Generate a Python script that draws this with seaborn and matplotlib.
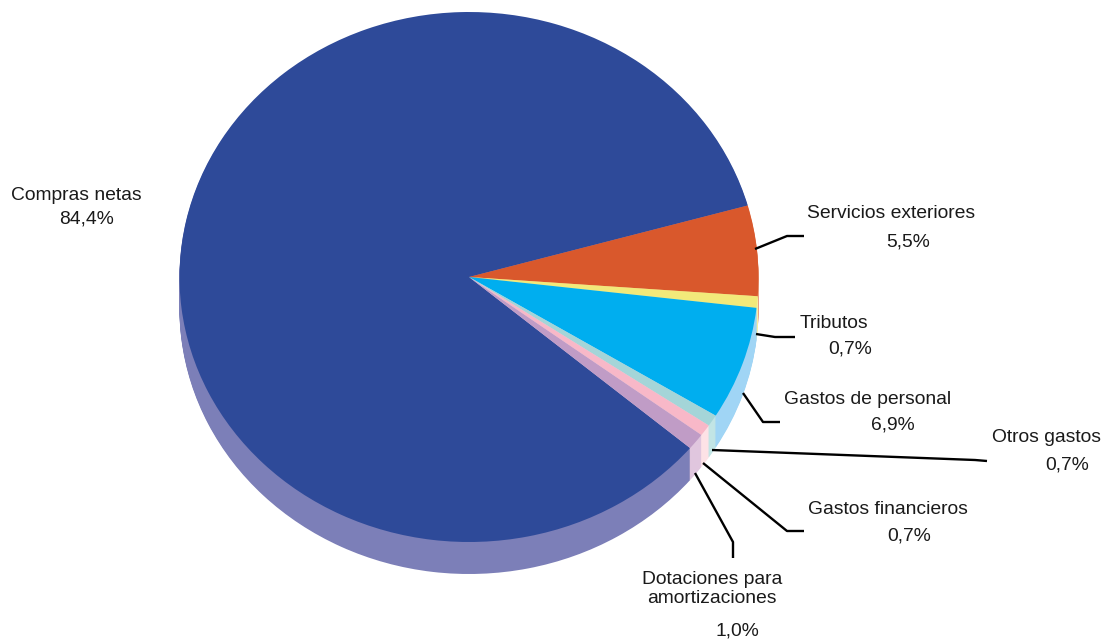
import numpy as np
import matplotlib
matplotlib.use("Agg")
import matplotlib.pyplot as plt
import seaborn as sns

# Chart data
categories = ["Compras netas", "Servicios exteriores", "Tributos", "Gastos de personal",
              "Otros gastos", "Gastos financieros", "Dotaciones para\namortizaciones"]
shares = [84.4, 5.5, 0.7, 6.9, 0.7, 0.7, 1.0]
share_labels = ["84,4%", "5,5%", "0,7%", "6,9%", "0,7%", "0,7%", "1,0%"]
top_colors = ["#2e4a99", "#d9582c", "#f2e97a", "#00aeef", "#a4d5d8", "#f8b8c8", "#c09cc6"]
side_colors = ["#7c7fb8", "#e8a080", "#f7f2a4", "#a0d5f5", "#c2e5e5", "#fde2e6", "#e0c6de"]

W, H = 1107, 640
CX, CY = 469, 277      # pie centre in pixels
RX, RY = 289.5, 265    # squashed pie radii
DEPTH = 32             # height of the side wall

sns.set_theme(style="white")
plt.rcParams["font.family"] = ["Liberation Sans", "DejaVu Sans"]

fig = plt.figure(figsize=(W / 100, H / 100), dpi=100)
ax = fig.add_axes([0, 0, 1, 1])


def to_data(x, y):
    return (x - CX) / RX, (CY - y) / RY


# side wall: stack of pies going down, then the top face
for step in range(DEPTH, 0, -1):
    ax.pie(shares, colors=sns.color_palette(side_colors), startangle=-40.2, counterclock=False,
           center=(0, -step / RY), wedgeprops={"linewidth": 0})
ax.pie(shares, colors=sns.color_palette(top_colors), startangle=-40.2, counterclock=False,
       wedgeprops={"linewidth": 0})

ax.set_aspect("auto")
ax.set_xlim(-CX / RX, (W - CX) / RX)
ax.set_ylim((CY - H) / RY, CY / RY)
ax.axis("off")

# leader lines
leaders = [
    [(755, 249), (787, 236), (804, 236)],
    [(756, 334), (775, 337), (795, 337)],
    [(743, 393), (763, 422), (780, 422)],
    [(712, 450), (975, 460), (987, 461)],
    [(703, 463), (787, 531), (804, 531)],
    [(695, 473), (733, 542), (733, 558)],
]
for pts in leaders:
    xs, ys = zip(*[to_data(*p) for p in pts])
    ax.plot(xs, ys, color="black", lw=1.7, solid_capstyle="butt")

# text positions: name centre, value centre
name_pos = [(76, 195), (891, 214), (834, 323), (868, 400), (1046, 438), (888, 509), (712, 589)]
value_pos = [(87, 219), (908, 242), (850, 349), (893, 425), (1067, 465), (909, 536), (737, 631)]
for name, label, np_, vp in zip(categories, share_labels, name_pos, value_pos):
    ax.text(*to_data(*np_), name, ha="center", va="center", fontsize=13.9, color="#1a1a1a",
            linespacing=1.15)
    ax.text(*to_data(*vp), label, ha="center", va="center", fontsize=13.9, color="#1a1a1a")

fig.savefig("out.png", dpi=100, facecolor="white")
